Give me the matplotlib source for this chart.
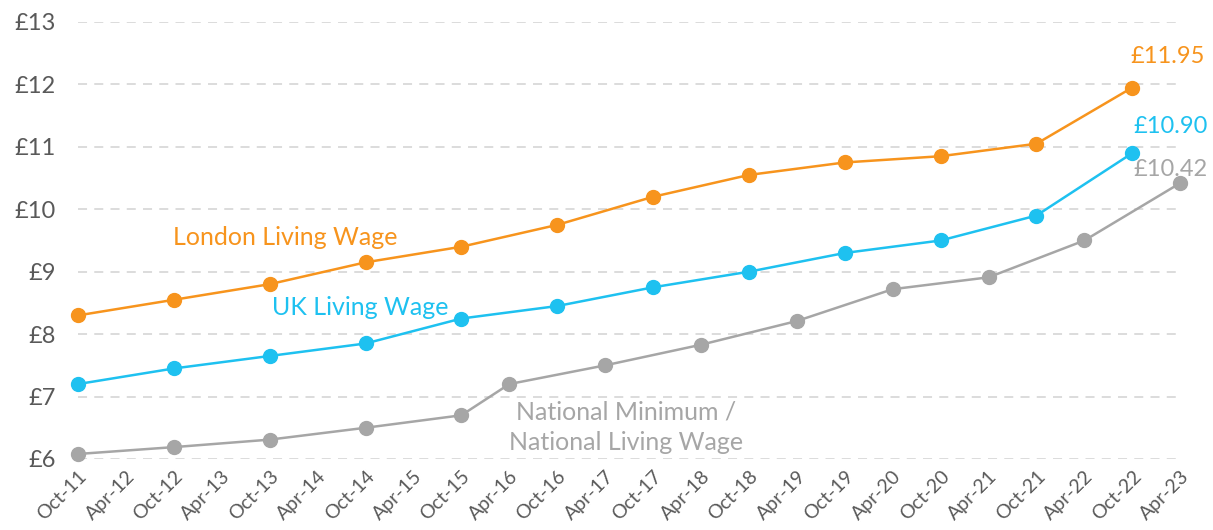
import matplotlib.pyplot as plt

plt.rcParams['font.family'] = ['Lato', 'DejaVu Sans']

# x categories (six-monthly)
labels = []
for yr in range(11, 23):
	labels.append('Oct-%d' % yr)
	labels.append('Apr-%d' % (yr + 1))

oct_idx = [0, 2, 4, 6, 8, 10, 12, 14, 16, 18, 20, 22]
london = [8.30, 8.55, 8.80, 9.15, 9.40, 9.75, 10.20, 10.55, 10.75, 10.85, 11.05, 11.95]
uk = [7.20, 7.45, 7.65, 7.85, 8.25, 8.45, 8.75, 9.00, 9.30, 9.50, 9.90, 10.90]

nmw_idx = [0, 2, 4, 6, 8, 9, 11, 13, 15, 17, 19, 21, 23]
nmw = [6.08, 6.19, 6.31, 6.50, 6.70, 7.20, 7.50, 7.83, 8.21, 8.72, 8.91, 9.50, 10.42]

ORANGE = '#F7941D'
BLUE = '#1EC1F0'
GREY = '#A6A6A6'

fig = plt.figure(figsize=(12.13, 5.30), dpi=100)
ax = fig.add_axes([0.0643, 0.134, 0.9087, 0.8245])

for xs, ys, c in [(oct_idx, london, ORANGE), (oct_idx, uk, BLUE), (nmw_idx, nmw, GREY)]:
	ax.plot(xs, ys, color=c, linewidth=1.8, marker='o', markersize=10,
			zorder=3, clip_on=False)

ax.set_xlim(0, 23)
ax.set_ylim(6, 13)
ax.set_yticks(range(6, 14))
ax.set_yticklabels(['£%d' % v for v in range(6, 14)], fontsize=17, color='#595959')
ax.set_xticks(range(len(labels)))
ax.set_xticklabels(labels, rotation=45, ha='right', rotation_mode='anchor',
				   fontsize=14, color='#595959')
ax.tick_params(length=0, axis='y', pad=16)
ax.tick_params(length=0, axis='x', pad=6)

ax.grid(axis='y', color='#D9D9D9', linestyle=(0, (5, 4)), linewidth=1.3, zorder=0)
for s in ax.spines.values():
	s.set_visible(False)

ax.text(4.33, 9.54, 'London Living Wage', color=ORANGE, fontsize=18, ha='center', va='center')
ax.text(5.9, 8.43, 'UK Living Wage', color=BLUE, fontsize=18, ha='center', va='center')
ax.text(11.44, 6.51, 'National Minimum /\nNational Living Wage', color=GREY,
		fontsize=18, ha='center', va='center', linespacing=1.4)
ax.text(22.73, 12.44, '£11.95', color=ORANGE, fontsize=17, ha='center', va='center')
ax.text(22.79, 11.32, '£10.90', color=BLUE, fontsize=17, ha='center', va='center')
ax.text(22.79, 10.63, '£10.42', color=GREY, fontsize=17, ha='center', va='center')

fig.savefig('out.png', dpi=100)
